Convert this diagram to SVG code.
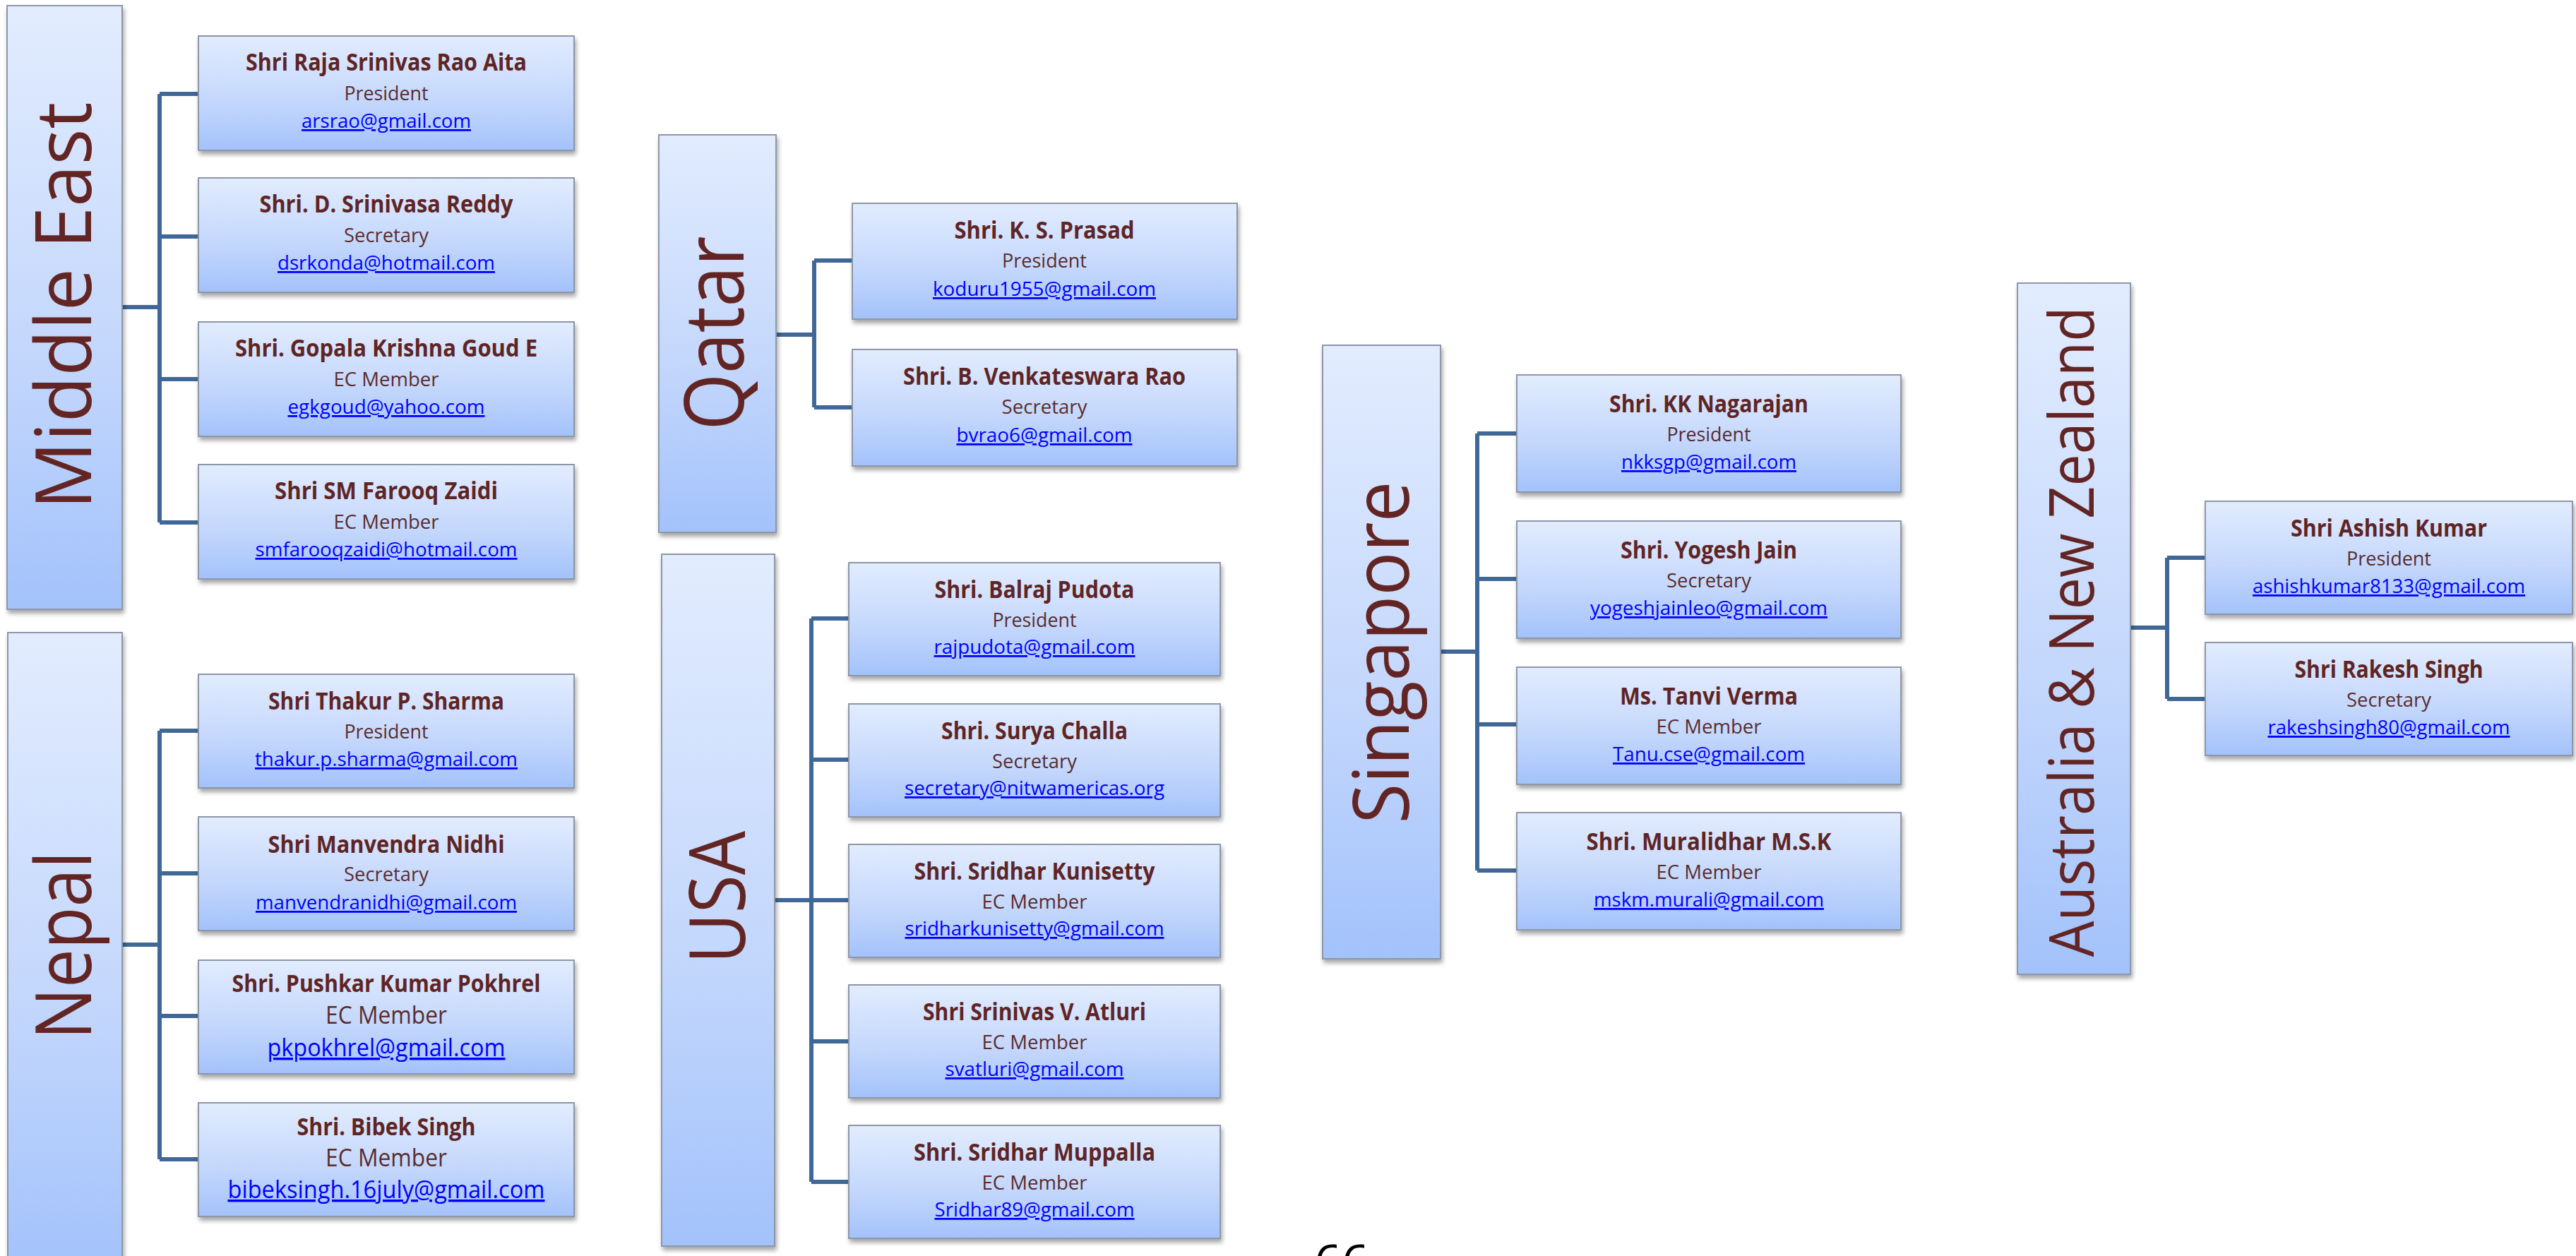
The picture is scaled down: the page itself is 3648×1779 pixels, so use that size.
<svg xmlns="http://www.w3.org/2000/svg" width="3648" height="1779" viewBox="0 0 3648 1779">
<defs>
<linearGradient id="g" x1="0" y1="0" x2="0" y2="1">
<stop offset="0" stop-color="#e2ecfe"/>
<stop offset="0.6" stop-color="#c2d6fc"/>
<stop offset="1" stop-color="#a3c2fb"/>
</linearGradient>
<filter id="sh" x="-5%" y="-5%" width="110%" height="120%">
<feGaussianBlur in="SourceAlpha" stdDeviation="3"/>
<feOffset dx="2" dy="5" result="b"/>
<feComponentTransfer><feFuncA type="linear" slope="0.35"/></feComponentTransfer>
<feMerge><feMergeNode/><feMergeNode in="SourceGraphic"/></feMerge>
</filter>
</defs>
<style>
.bx{fill:url(#g);stroke:#8d97a8;stroke-width:2;filter:url(#sh)}
.pn{fill:url(#g);stroke:#8d97a8;stroke-width:2;filter:url(#sh)}
.tt{font-family:'Open Sans','Noto Sans',sans-serif;font-size:110px;fill:#632523;text-anchor:middle}
.nm{font-family:'Open Sans','Noto Sans',sans-serif;font-weight:bold;font-size:34px;fill:#5f2424;text-anchor:middle}
.rl{font-family:'Open Sans','Noto Sans',sans-serif;font-size:27px;fill:#5a2c2c;text-anchor:middle}
.em{font-family:'Open Sans','Noto Sans',sans-serif;font-size:28px;fill:#0000ff;text-anchor:middle;text-decoration:underline}
.big{font-size:34px}
.cn{fill:none;stroke:#3f6797;stroke-width:6}
.pg{font-family:'Open Sans','Noto Sans',sans-serif;font-size:68px;fill:#000;text-anchor:middle}
</style>

<g id="connectors">
<path class="cn" d="M173 435H226M226 133V740M226 133H281M226 335H281M226 537H281M226 740H281"/>
<path class="cn" d="M173 1338H226M226 1035V1642M226 1035H281M226 1237H281M226 1439H281M226 1642H281"/>
<path class="cn" d="M1099 474H1153M1153 369V577M1153 369H1207M1153 577H1207"/>
<path class="cn" d="M1097 1275H1149M1149 876V1674M1149 876H1202M1149 1076H1202M1149 1275H1202M1149 1475H1202M1149 1674H1202"/>
<path class="cn" d="M2040 923H2092M2092 614V1233M2092 614H2148M2092 820H2148M2092 1026H2148M2092 1233H2148"/>
<path class="cn" d="M3017 889H3069M3069 790V990M3069 790H3123M3069 990H3123"/>
</g>

<g id="middle-east">
<rect class="pn" x="10" y="8" width="163" height="855"/>
<text class="tt" transform="translate(129 433) rotate(-90)" textLength="577" lengthAdjust="spacingAndGlyphs">Middle East</text>
</g>
<g id="me-1"><rect class="bx" x="281" y="51" width="532" height="162"/>
<text class="nm" x="547" y="100" textLength="398" lengthAdjust="spacingAndGlyphs">Shri Raja Srinivas Rao Aita</text>
<text class="rl" x="547" y="142" textLength="119" lengthAdjust="spacingAndGlyphs">President</text>
<text class="em" x="547" y="181" textLength="240" lengthAdjust="spacingAndGlyphs">arsrao@gmail.com</text></g>
<g id="me-2"><rect class="bx" x="281" y="252" width="532" height="162"/>
<text class="nm" x="547" y="301" textLength="359" lengthAdjust="spacingAndGlyphs">Shri. D. Srinivasa Reddy</text>
<text class="rl" x="547" y="343" textLength="120" lengthAdjust="spacingAndGlyphs">Secretary</text>
<text class="em" x="547" y="382" textLength="308" lengthAdjust="spacingAndGlyphs">dsrkonda@hotmail.com</text></g>
<g id="me-3"><rect class="bx" x="281" y="456" width="532" height="162"/>
<text class="nm" x="547" y="505" textLength="428" lengthAdjust="spacingAndGlyphs">Shri. Gopala Krishna Goud E</text>
<text class="rl" x="547" y="547" textLength="149" lengthAdjust="spacingAndGlyphs">EC Member</text>
<text class="em" x="547" y="586" textLength="279" lengthAdjust="spacingAndGlyphs">egkgoud@yahoo.com</text></g>
<g id="me-4"><rect class="bx" x="281" y="658" width="532" height="162"/>
<text class="nm" x="547" y="707" textLength="316" lengthAdjust="spacingAndGlyphs">Shri SM Farooq Zaidi</text>
<text class="rl" x="547" y="749" textLength="149" lengthAdjust="spacingAndGlyphs">EC Member</text>
<text class="em" x="547" y="788" textLength="371" lengthAdjust="spacingAndGlyphs">smfarooqzaidi@hotmail.com</text></g>

<g id="nepal">
<rect class="pn" x="11" y="896" width="162" height="900"/>
<text class="tt" transform="translate(129 1339) rotate(-90)" textLength="267" lengthAdjust="spacingAndGlyphs">Nepal</text>
</g>
<g id="np-1"><rect class="bx" x="281" y="955" width="532" height="161"/>
<text class="nm" x="547" y="1005" textLength="334" lengthAdjust="spacingAndGlyphs">Shri Thakur P. Sharma</text>
<text class="rl" x="547" y="1046" textLength="119" lengthAdjust="spacingAndGlyphs">President</text>
<text class="em" x="547" y="1085" textLength="372" lengthAdjust="spacingAndGlyphs">thakur.p.sharma@gmail.com</text></g>
<g id="np-2"><rect class="bx" x="281" y="1157" width="532" height="161"/>
<text class="nm" x="547" y="1208" textLength="335" lengthAdjust="spacingAndGlyphs">Shri Manvendra Nidhi</text>
<text class="rl" x="547" y="1248" textLength="120" lengthAdjust="spacingAndGlyphs">Secretary</text>
<text class="em" x="547" y="1288" textLength="370" lengthAdjust="spacingAndGlyphs">manvendranidhi@gmail.com</text></g>
<g id="np-3"><rect class="bx" x="281" y="1360" width="532" height="161"/>
<text class="nm" x="547" y="1405" textLength="437" lengthAdjust="spacingAndGlyphs">Shri. Pushkar Kumar Pokhrel</text>
<text class="rl big" x="547" y="1450" textLength="172" lengthAdjust="spacingAndGlyphs">EC Member</text>
<text class="em big" x="547" y="1496" textLength="337" lengthAdjust="spacingAndGlyphs">pkpokhrel@gmail.com</text></g>
<g id="np-4"><rect class="bx" x="281" y="1562" width="532" height="161"/>
<text class="nm" x="547" y="1608" textLength="253" lengthAdjust="spacingAndGlyphs">Shri. Bibek Singh</text>
<text class="rl big" x="547" y="1652" textLength="172" lengthAdjust="spacingAndGlyphs">EC Member</text>
<text class="em big" x="547" y="1697" textLength="449" lengthAdjust="spacingAndGlyphs">bibeksingh.16july@gmail.com</text></g>

<g id="qatar">
<rect class="pn" x="933" y="191" width="166" height="563"/>
<text class="tt" transform="translate(1053 472) rotate(-90)" textLength="275" lengthAdjust="spacingAndGlyphs" style="font-size:118px">Qatar</text>
</g>
<g id="qa-1"><rect class="bx" x="1207" y="288" width="545" height="164"/>
<text class="nm" x="1479" y="338" textLength="255" lengthAdjust="spacingAndGlyphs">Shri. K. S. Prasad</text>
<text class="rl" x="1479" y="379" textLength="120" lengthAdjust="spacingAndGlyphs">President</text>
<text class="em" x="1479" y="419" textLength="316" lengthAdjust="spacingAndGlyphs">koduru1955@gmail.com</text></g>
<g id="qa-2"><rect class="bx" x="1207" y="495" width="545" height="165"/>
<text class="nm" x="1479" y="545" textLength="400" lengthAdjust="spacingAndGlyphs">Shri. B. Venkateswara Rao</text>
<text class="rl" x="1479" y="586" textLength="121" lengthAdjust="spacingAndGlyphs">Secretary</text>
<text class="em" x="1479" y="626" textLength="249" lengthAdjust="spacingAndGlyphs">bvrao6@gmail.com</text></g>

<g id="usa">
<rect class="pn" x="937" y="785" width="160" height="980"/>
<text class="tt" transform="translate(1055 1271) rotate(-90)" textLength="188" lengthAdjust="spacingAndGlyphs">USA</text>
</g>
<g id="us-1"><rect class="bx" x="1202" y="797" width="526" height="160"/>
<text class="nm" x="1465" y="847" textLength="283" lengthAdjust="spacingAndGlyphs">Shri. Balraj Pudota</text>
<text class="rl" x="1465" y="888" textLength="119" lengthAdjust="spacingAndGlyphs">President</text>
<text class="em" x="1465" y="926" textLength="285" lengthAdjust="spacingAndGlyphs">rajpudota@gmail.com</text></g>
<g id="us-2"><rect class="bx" x="1202" y="997" width="526" height="160"/>
<text class="nm" x="1465" y="1047" textLength="264" lengthAdjust="spacingAndGlyphs">Shri. Surya Challa</text>
<text class="rl" x="1465" y="1088" textLength="120" lengthAdjust="spacingAndGlyphs">Secretary</text>
<text class="em" x="1465" y="1126" textLength="368" lengthAdjust="spacingAndGlyphs">secretary@nitwamericas.org</text></g>
<g id="us-3"><rect class="bx" x="1202" y="1196" width="526" height="160"/>
<text class="nm" x="1465" y="1246" textLength="341" lengthAdjust="spacingAndGlyphs">Shri. Sridhar Kunisetty</text>
<text class="rl" x="1465" y="1287" textLength="149" lengthAdjust="spacingAndGlyphs">EC Member</text>
<text class="em" x="1465" y="1325" textLength="367" lengthAdjust="spacingAndGlyphs">sridharkunisetty@gmail.com</text></g>
<g id="us-4"><rect class="bx" x="1202" y="1395" width="526" height="160"/>
<text class="nm" x="1465" y="1445" textLength="316" lengthAdjust="spacingAndGlyphs">Shri Srinivas V. Atluri</text>
<text class="rl" x="1465" y="1486" textLength="149" lengthAdjust="spacingAndGlyphs">EC Member</text>
<text class="em" x="1465" y="1524" textLength="253" lengthAdjust="spacingAndGlyphs">svatluri@gmail.com</text></g>
<g id="us-5"><rect class="bx" x="1202" y="1594" width="526" height="160"/>
<text class="nm" x="1465" y="1644" textLength="342" lengthAdjust="spacingAndGlyphs">Shri. Sridhar Muppalla</text>
<text class="rl" x="1465" y="1685" textLength="149" lengthAdjust="spacingAndGlyphs">EC Member</text>
<text class="em" x="1465" y="1723" textLength="283" lengthAdjust="spacingAndGlyphs">Sridhar89@gmail.com</text></g>

<g id="singapore">
<rect class="pn" x="1873" y="489" width="167" height="869"/>
<text class="tt" transform="translate(1995 924) rotate(-90)" textLength="485" lengthAdjust="spacingAndGlyphs">Singapore</text>
</g>
<g id="sg-1"><rect class="bx" x="2148" y="531" width="544" height="166"/>
<text class="nm" x="2420" y="584" textLength="282" lengthAdjust="spacingAndGlyphs">Shri. KK Nagarajan</text>
<text class="rl" x="2420" y="625" textLength="119" lengthAdjust="spacingAndGlyphs">President</text>
<text class="em" x="2420" y="664" textLength="248" lengthAdjust="spacingAndGlyphs">nkksgp@gmail.com</text></g>
<g id="sg-2"><rect class="bx" x="2148" y="738" width="544" height="166"/>
<text class="nm" x="2420" y="791" textLength="250" lengthAdjust="spacingAndGlyphs">Shri. Yogesh Jain</text>
<text class="rl" x="2420" y="832" textLength="120" lengthAdjust="spacingAndGlyphs">Secretary</text>
<text class="em" x="2420" y="871" textLength="336" lengthAdjust="spacingAndGlyphs">yogeshjainleo@gmail.com</text></g>
<g id="sg-3"><rect class="bx" x="2148" y="945" width="544" height="166"/>
<text class="nm" x="2420" y="998" textLength="252" lengthAdjust="spacingAndGlyphs">Ms. Tanvi Verma</text>
<text class="rl" x="2420" y="1039" textLength="149" lengthAdjust="spacingAndGlyphs">EC Member</text>
<text class="em" x="2420" y="1078" textLength="272" lengthAdjust="spacingAndGlyphs">Tanu.cse@gmail.com</text></g>
<g id="sg-4"><rect class="bx" x="2148" y="1151" width="544" height="166"/>
<text class="nm" x="2420" y="1204" textLength="347" lengthAdjust="spacingAndGlyphs">Shri. Muralidhar M.S.K</text>
<text class="rl" x="2420" y="1245" textLength="149" lengthAdjust="spacingAndGlyphs">EC Member</text>
<text class="em" x="2420" y="1284" textLength="326" lengthAdjust="spacingAndGlyphs">mskm.murali@gmail.com</text></g>

<g id="australia">
<rect class="pn" x="2857" y="401" width="160" height="979"/>
<text class="tt" transform="translate(2965 895) rotate(-90)" textLength="921" lengthAdjust="spacingAndGlyphs" style="font-size:88px">Australia &amp; New Zealand</text>
</g>
<g id="au-1"><rect class="bx" x="3123" y="710" width="520" height="160"/>
<text class="nm" x="3383" y="760" textLength="278" lengthAdjust="spacingAndGlyphs">Shri Ashish Kumar</text>
<text class="rl" x="3383" y="801" textLength="120" lengthAdjust="spacingAndGlyphs">President</text>
<text class="em" x="3383" y="840" textLength="386" lengthAdjust="spacingAndGlyphs">ashishkumar8133@gmail.com</text></g>
<g id="au-2"><rect class="bx" x="3123" y="910" width="520" height="160"/>
<text class="nm" x="3383" y="960" textLength="267" lengthAdjust="spacingAndGlyphs">Shri Rakesh Singh</text>
<text class="rl" x="3383" y="1001" textLength="120" lengthAdjust="spacingAndGlyphs">Secretary</text>
<text class="em" x="3383" y="1040" textLength="343" lengthAdjust="spacingAndGlyphs">rakeshsingh80@gmail.com</text></g>

<text class="pg" x="1900" y="1812">66</text>
</svg>
